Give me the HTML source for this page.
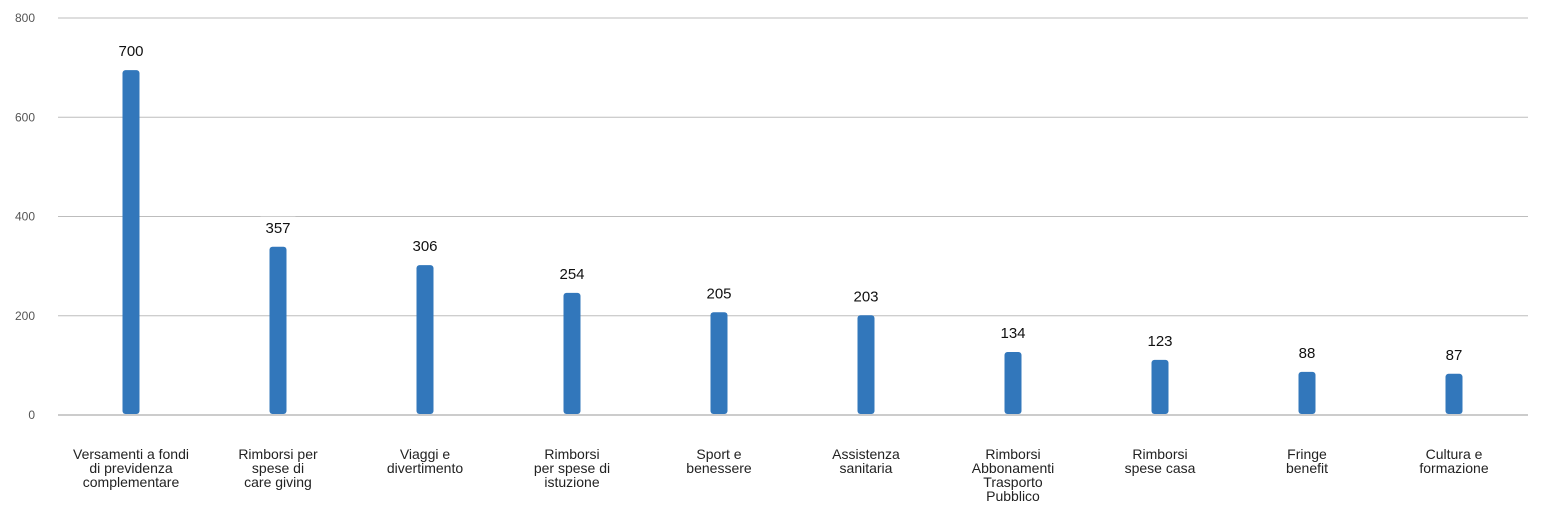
<!DOCTYPE html>
<html><head><meta charset="utf-8"><style>
html,body{margin:0;padding:0;background:#fff;}
svg{display:block;font-family:"Liberation Sans",sans-serif;}
</style></head><body>
<svg id="chart" width="1546" height="507" viewBox="0 0 1546 507"></svg>
<script>
const categories = [
  ["Versamenti a fondi","di previdenza","complementare"],
  ["Rimborsi per","spese di","care giving"],
  ["Viaggi e","divertimento"],
  ["Rimborsi","per spese di","istuzione"],
  ["Sport e","benessere"],
  ["Assistenza","sanitaria"],
  ["Rimborsi","Abbonamenti","Trasporto","Pubblico"],
  ["Rimborsi","spese casa"],
  ["Fringe","benefit"],
  ["Cultura e","formazione"]
];
const values = [695, 339, 302, 246, 207, 201, 127, 111, 87, 83];
const valueLabels = ["700","357","306","254","205","203","134","123","88","87"];
const yTicks = [0, 200, 400, 600, 800];

const svg = document.getElementById('chart');
const NS = 'http://www.w3.org/2000/svg';
const x0 = 58, x1 = 1528, y0 = 415, yTop = 18, yMax = 800;
const yScale = v => y0 - (v / yMax) * (y0 - yTop);
const band = (x1 - x0) / categories.length;
const xCenter = i => x0 + band * (i + 0.5) - 0.5;
function mk(tag, attrs){const e=document.createElementNS(NS,tag);for(const k in attrs)e.setAttribute(k,attrs[k]);svg.appendChild(e);return e;}

yTicks.forEach(t => {
  const y = yScale(t);
  const l = mk('line',{x1:x0,x2:x1,y1:y,y2:y,stroke:t===0?'#999':'#bdbdbd','stroke-width':1});
  
  
  const tx = mk('text',{x:35,y:y+4,'text-anchor':'end','font-size':12,fill:'#555'});
  tx.textContent = t;
  
  
});

values.forEach((v, i) => {
  const cx = xCenter(i), top = yScale(v), w = 17;
  const b = mk('rect',{x:cx-w/2,y:top,width:w,height:y0-1-top,rx:3,ry:3,fill:'#3277bb'});
  
  
  const lw = valueLabels[i].length * 9 + 8;
  const bg = mk('rect',{x:cx-lw/2,y:top-30,width:lw,height:20,fill:'#fff'});
  
  
  const lt = mk('text',{x:cx,y:top-14,'text-anchor':'middle','font-size':15,fill:'#111'});
  lt.textContent = valueLabels[i];
  
  
  const ct = mk('text',{x:cx,y:459,'text-anchor':'middle','font-size':14,fill:'#222'});
  
  
  categories[i].forEach((line, j) => {
    const ts = document.createElementNS(NS,'tspan');
    ts.setAttribute('x', cx);
    ts.setAttribute('dy', j === 0 ? 0 : 14);
    ts.textContent = line;
    ct.appendChild(ts);
  });
});
</script>
</body></html>
